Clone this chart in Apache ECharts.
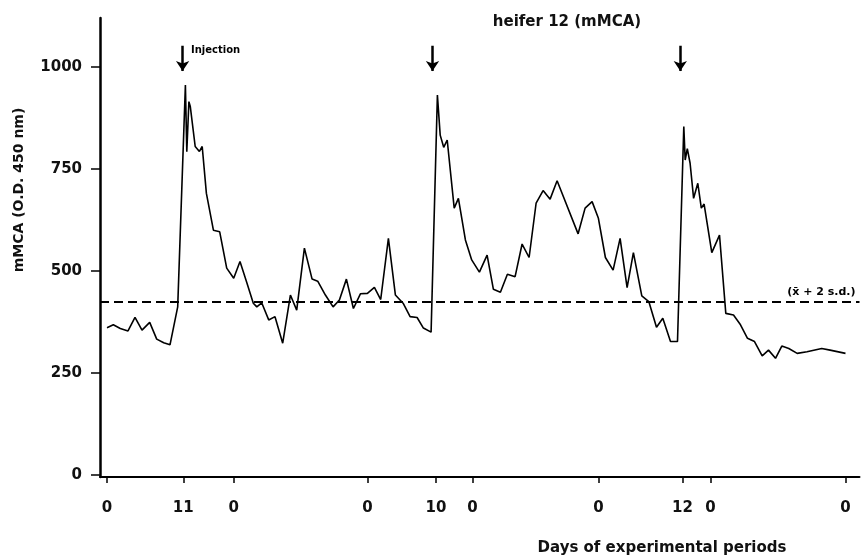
<!DOCTYPE html>
<html>
<head>
<meta charset="utf-8">
<script src="https://cdn.jsdelivr.net/npm/echarts@6/dist/echarts.min.js"></script>
<style>
  html, body { margin: 0; padding: 0; background: #fff; }
  #chart { width: 861px; height: 560px; }
</style>
</head>
<body>
<div id="chart"></div>
<script>
// days of experimental periods (sample positions) and mMCA O.D. values
const days = [
  0.0, 0.9, 1.9, 3.0, 4.0, 5.0, 6.1, 7.1, 8.1, 9.0, 10.1,
  11.2, 11.4, 11.7, 11.9, 12.6, 13.2, 13.6, 14.2, 15.2, 16.1, 17.1, 18.1, 19.0, 20.0,
  20.9, 21.4, 22.1, 23.1, 24.0, 25.1, 26.2, 27.1, 28.2, 29.3, 30.1, 31.2, 32.3, 33.2,
  34.2, 35.2, 36.2, 37.2, 38.2, 39.1, 40.2, 41.2, 42.3, 43.3, 44.3, 45.2, 46.3,
  47.2, 47.6, 48.1, 48.6, 49.6, 50.2, 51.2, 52.1, 53.2, 54.3, 55.2, 56.2, 57.2, 58.3,
  59.3, 60.3, 61.3, 62.3, 63.3, 64.3, 67.3, 68.3, 69.3, 70.2, 71.2, 72.3, 73.3, 74.3,
  75.2, 76.4, 77.4, 78.5, 79.4, 80.5, 81.5,
  82.4, 82.6, 82.9, 83.3, 83.8, 84.4, 84.9, 85.3, 86.4, 87.5, 88.4, 89.5, 90.5, 91.5,
  92.5, 93.6, 94.5, 95.5, 96.4, 97.4, 98.6, 100.0, 102.1, 103.3, 105.5
];
const mmca = [
  361, 368, 359, 353, 386, 355, 374, 333, 324, 319, 412,
  956, 792, 915, 903, 805, 793, 805, 690, 600, 596, 507, 482, 523, 470,
  421, 412, 422, 380, 388, 323, 441, 404, 556, 480, 475, 441, 412, 429,
  480, 408, 444, 445, 460, 430, 580, 441, 421, 388, 386, 360, 350,
  931, 833, 803, 821, 654, 678, 576, 527, 497, 539, 455, 448, 492, 486,
  566, 533, 666, 697, 676, 721, 591, 654, 670, 629, 533, 502, 580, 459,
  545, 439, 425, 362, 384, 327, 327,
  854, 772, 800, 764, 678, 715, 654, 664, 545, 588, 396, 392, 368, 335,
  327, 292, 306, 286, 316, 310, 298, 302, 310, 306, 298
];

// x axis ticks and their labels
const tickDays = [0, 10.9, 18.1, 37.2, 47.0, 52.2, 70.2, 82.2, 86.2, 105.5];
const tickLabels = ['0', '11', '0', '0', '10', '0', '0', '12', '0', '0'];
const yTicks = [0, 250, 500, 750, 1000];

const injectionDays = [10.8, 46.5, 81.9];
const threshold = 424;

const font = 'DejaVu Sans';
const chart = echarts.init(document.getElementById('chart'));

const option = {
  animation: false,
  backgroundColor: '#fff',
  grid: { left: 100, right: 1.5, top: 18, bottom: 83 },
  xAxis: {
    type: 'value',
    min: -1,
    max: 107.5,
    splitLine: { show: false },
    axisLine: { onZero: false, lineStyle: { color: '#000', width: 2 } },
    axisTick: { customValues: tickDays, length: 6, lineStyle: { color: '#000', width: 1.5 } },
    axisLabel: {
      customValues: tickDays,
      margin: 24,
      color: '#111',
      fontFamily: font,
      fontWeight: 'bold',
      fontSize: 15,
      formatter: function (v) { return tickLabels[tickDays.indexOf(v)]; }
    }
  },
  yAxis: {
    type: 'value',
    min: -5,
    max: 1120,
    splitLine: { show: false },
    axisLine: { show: true, onZero: false, lineStyle: { color: '#000', width: 2.5 } },
    axisTick: { show: true, customValues: yTicks, length: 9, lineStyle: { color: '#000', width: 1.5 } },
    axisLabel: {
      customValues: yTicks,
      margin: 18,
      color: '#111',
      fontFamily: font,
      fontWeight: 'bold',
      fontSize: 15,
      formatter: function (v) { return String(v); }
    }
  },
  series: [
    {
      name: 'mMCA',
      type: 'line',
      data: days.map(function (d, i) { return [d, mmca[i]]; }),
      symbol: 'none',
      lineStyle: { color: '#000', width: 1.6 },
      markLine: {
        silent: true,
        symbol: ['none', 'none'],
        lineStyle: { type: [9, 5], width: 2, color: '#000' },
        label: {
          show: true,
          position: 'insideEndTop',
          formatter: '(x\u0304 + 2 s.d.)',
          color: '#000',
          fontFamily: font,
          fontWeight: 'bold',
          fontSize: 11,
          distance: 4
        },
        data: [{ yAxis: threshold }]
      }
    },
    {
      name: 'injection',
      type: 'line',
      data: [],
      markLine: {
        silent: true,
        symbol: ['none', 'arrow'],
        symbolSize: 10,
        lineStyle: { type: 'solid', width: 2.5, color: '#000' },
        label: { show: false },
        data: injectionDays.map(function (d) {
          return [{ coord: [d, 1052] }, { coord: [d, 990] }];
        })
      }
    }
  ],
  graphic: [
    {
      type: 'text', x: 567, y: 22,
      style: { text: 'heifer 12 (mMCA)', align: 'center', verticalAlign: 'middle',
        font: 'bold 15px "DejaVu Sans"', fill: '#111' }
    },
    {
      type: 'text', x: 191, y: 50,
      style: { text: 'Injection', align: 'left', verticalAlign: 'middle',
        font: 'bold 10px "DejaVu Sans"', fill: '#000' }
    },
    {
      type: 'text', x: 19, y: 190, rotation: Math.PI / 2,
      style: { text: 'mMCA (O.D. 450 nm)', align: 'center', verticalAlign: 'middle',
        font: 'bold 14px "DejaVu Sans"', fill: '#111' }
    },
    {
      type: 'text', x: 662, y: 548,
      style: { text: 'Days of experimental periods', align: 'center', verticalAlign: 'middle',
        font: 'bold 15px "DejaVu Sans"', fill: '#111' }
    }
  ]
};

chart.setOption(option);
</script>
</body>
</html>
